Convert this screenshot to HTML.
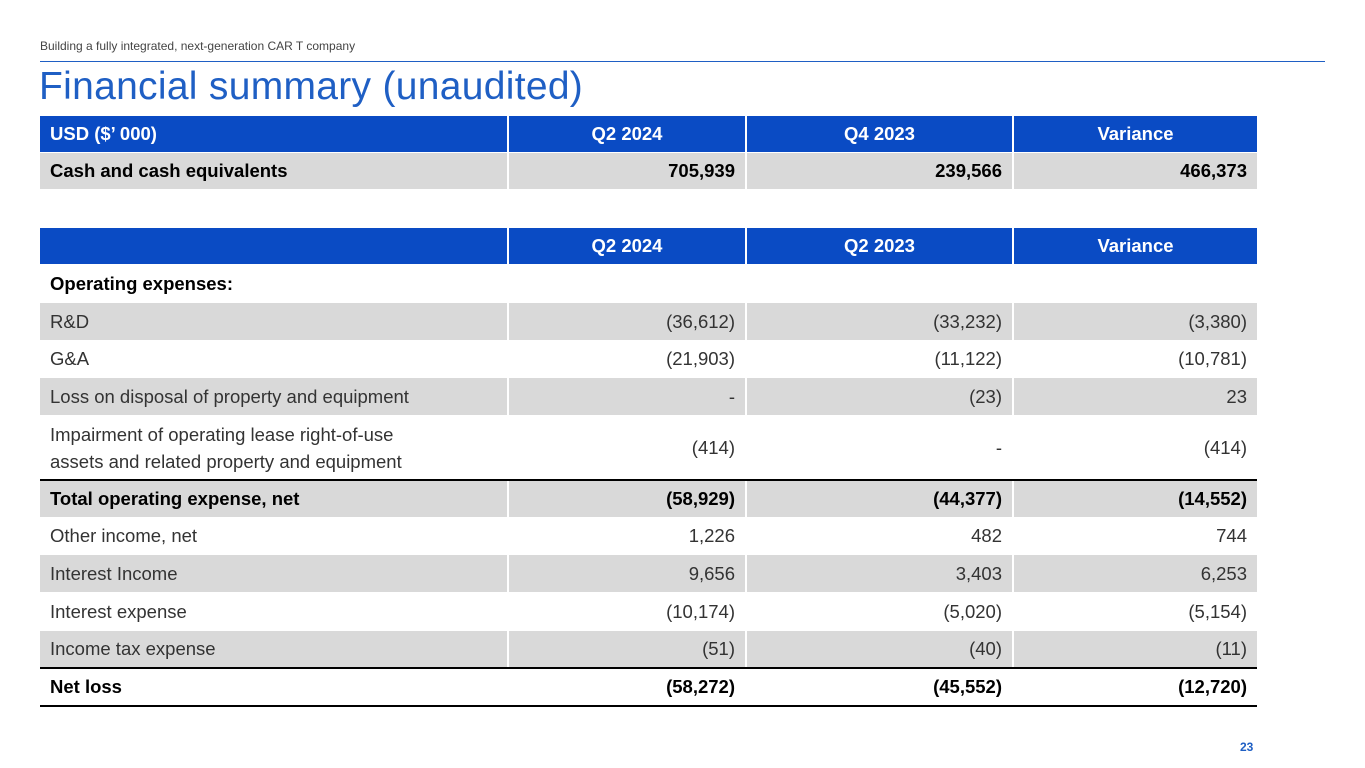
<!DOCTYPE html>
<html><head><meta charset="utf-8"><style>
body{margin:0;width:1365px;height:768px;background:#fff;font-family:"Liberation Sans",sans-serif;position:relative;overflow:hidden}
.a{position:absolute}
.c{position:absolute;box-sizing:border-box;display:flex;align-items:center;font-size:18.5px;color:#333;white-space:nowrap}
.l{padding-left:10px;justify-content:flex-start}
.r{padding-right:10px;justify-content:flex-end}
.h{color:#fff;font-weight:bold;justify-content:center;background:#0A4BC4}
.g{background:#D9D9D9}
.b{font-weight:bold;color:#000}
</style></head><body>
<div class="a" style="left:40px;top:39px;font-size:12px;color:#444">Building a fully integrated, next-generation CAR T company</div>
<div class="a" style="left:40px;top:61px;width:1285px;height:1px;background:#1F5FC4"></div>
<div class="a" style="left:39px;top:65px;font-size:39px;letter-spacing:0.3px;color:#1F5FC4">Financial summary (unaudited)</div>
<div id="t"></div>
<div class="a" style="left:1240px;top:740px;font-size:12px;font-weight:bold;color:#1F5FC4">23</div>
<script>
const cols=[[40,467],[509,236],[747,265],[1014,243]];
const rows=[
 {y:116,h:36,cls:'h',cells:['USD ($’ 000)','Q2 2024','Q4 2023','Variance'],name:'cash-header-row'},
 {y:153,h:36,g:1,b:1,cells:['Cash and cash equivalents','705,939','239,566','466,373'],name:'cash-row'},
 {y:228,h:36,cls:'h',cells:['','Q2 2024','Q2 2023','Variance'],name:'opex-header-row'},
 {y:265,h:37,b:1,cells:['Operating expenses:','','',''],name:'operating-expenses-row'},
 {y:303,h:37,g:1,cells:['R&D','(36,612)','(33,232)','(3,380)'],name:'rd-row'},
 {y:341,h:36,cells:['G&A','(21,903)','(11,122)','(10,781)'],name:'ga-row'},
 {y:378,h:37,g:1,cells:['Loss on disposal of property and equipment','-','(23)','23'],name:'loss-disposal-row'},
 {y:416,h:63,cells:['Impairment of operating lease right-of-use<br>assets and related property and equipment','(414)','-','(414)'],name:'impairment-row'},
 {y:480,h:37,g:1,b:1,top:1,cells:['Total operating expense, net','(58,929)','(44,377)','(14,552)'],name:'total-opex-row'},
 {y:518,h:36,cells:['Other income, net','1,226','482','744'],name:'other-income-row'},
 {y:555,h:37,g:1,cells:['Interest Income','9,656','3,403','6,253'],name:'interest-income-row'},
 {y:593,h:37,cells:['Interest expense','(10,174)','(5,020)','(5,154)'],name:'interest-expense-row'},
 {y:631,h:36,g:1,cells:['Income tax expense','(51)','(40)','(11)'],name:'income-tax-row'},
 {y:668,h:37,b:1,top:1,bot:1,cells:['Net loss','(58,272)','(45,552)','(12,720)'],name:'net-loss-row'}
];
const t=document.getElementById('t');
rows.forEach(r=>{
 r.cells.forEach((txt,i)=>{
  const d=document.createElement('div');
  let c='c '+(r.cls==='h'?'h':(i===0?'l':'r'));
  if(r.g)c+=' g';if(r.b)c+=' b';
  d.className=c;
  d.style.left=cols[i][0]+'px';d.style.width=cols[i][1]+'px';
  d.style.top=r.y+'px';d.style.height=r.h+'px';
  if(r.h>50){d.style.whiteSpace='normal';d.style.lineHeight='27px';}
  if(r.cls==='h'&&i===0){d.style.justifyContent='flex-start';d.style.paddingLeft='10px';}
  d.innerHTML=txt;
  
  
  t.appendChild(d);
 });
 if(r.top){const ln=document.createElement('div');ln.className='a';ln.style.cssText='left:40px;width:1217px;height:1.5px;background:#000;top:'+(r.y-1)+'px';
  
  
  t.appendChild(ln);}
 if(r.bot){const ln=document.createElement('div');ln.className='a';ln.style.cssText='left:40px;width:1217px;height:1.5px;background:#000;top:'+(r.y+r.h)+'px';
  
  
  t.appendChild(ln);}
});
</script>
</body></html>
